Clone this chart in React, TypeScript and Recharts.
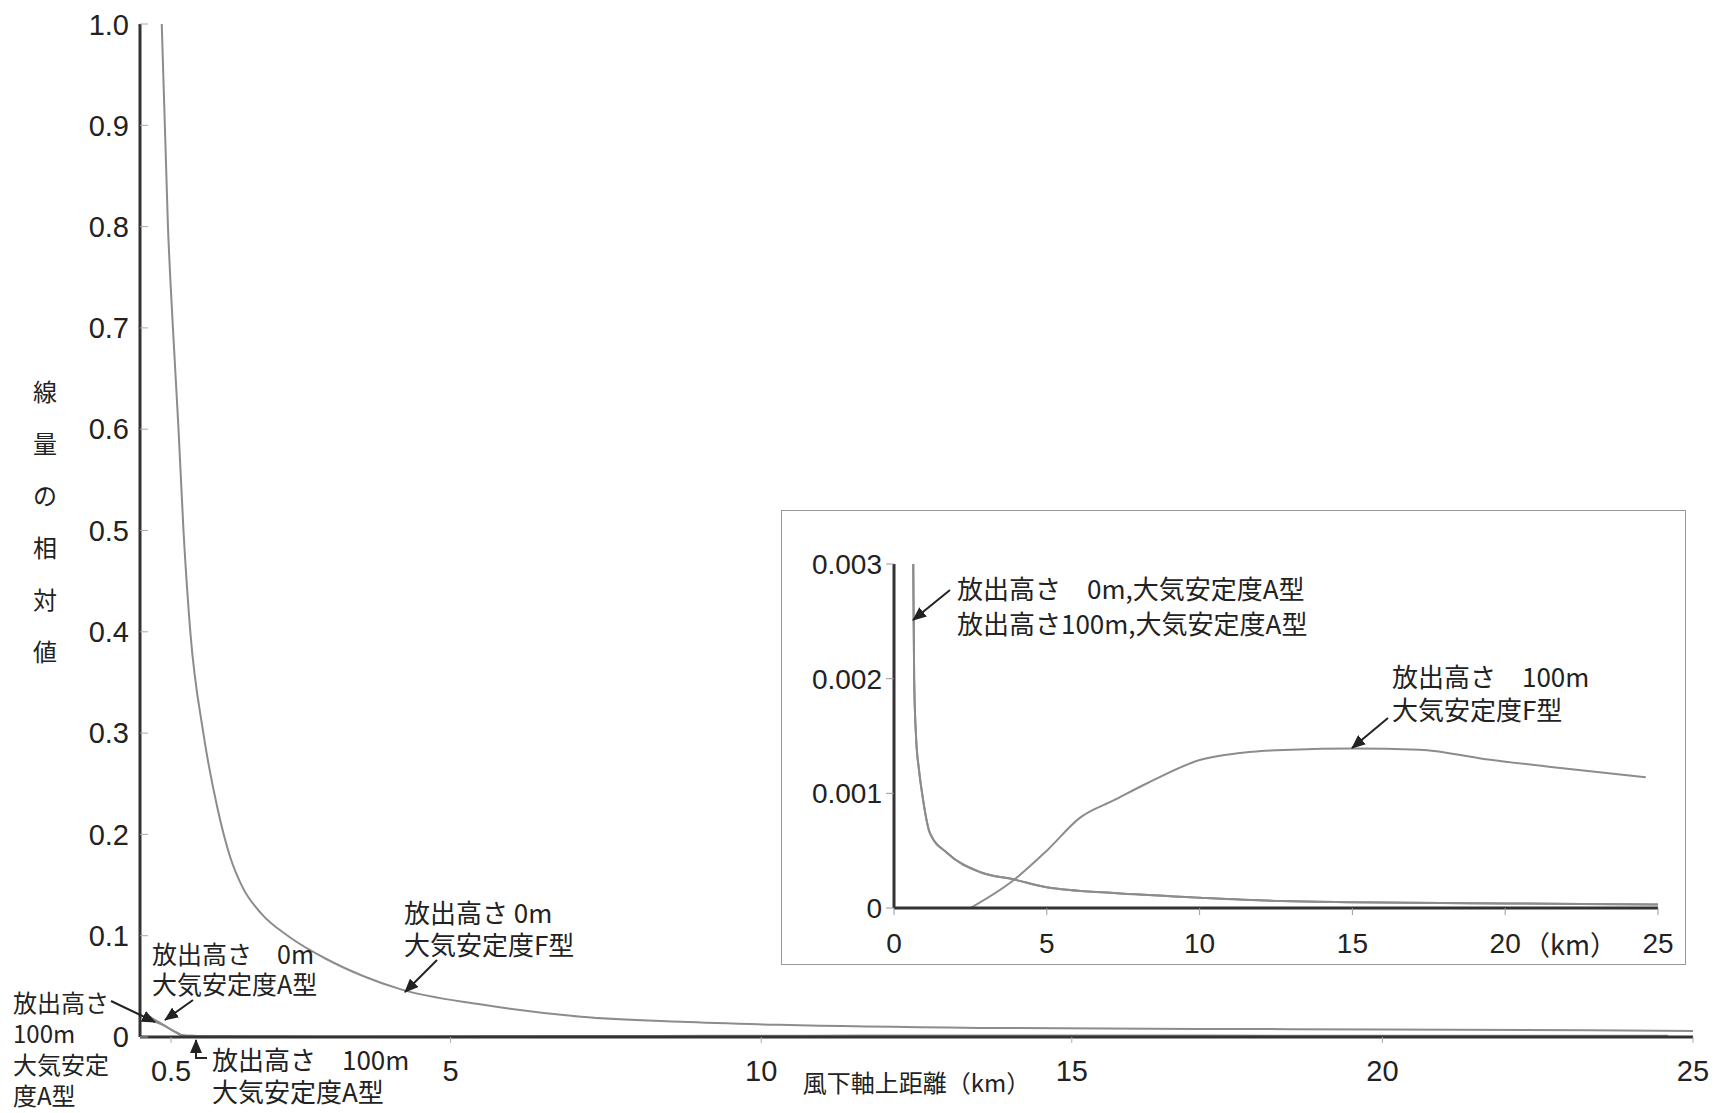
import React from 'react';
import { LineChart, Line, XAxis, YAxis } from 'recharts';

// 放出高さ0m・大気安定度F型 (main curve)
const f0Dist = [0.35, 0.45, 0.53, 0.62, 0.7, 0.81, 1.02, 1.25, 1.45, 1.65, 1.95, 2.4, 3.0, 3.6, 4.2, 5.5, 7.1, 8.7, 10.3, 13.5, 17, 20, 25];
const f0Dose = [1.0, 0.8, 0.7, 0.6, 0.5, 0.4, 0.3, 0.225, 0.178, 0.148, 0.122, 0.099, 0.077, 0.06, 0.047, 0.032, 0.02, 0.015, 0.012, 0.009, 0.008, 0.0075, 0.006];

// 放出高さ0m・大気安定度A型
const a0Dist = [0.15, 0.35, 0.55, 0.63, 0.66, 0.72, 0.82, 0.92, 1.18, 1.74, 2.85, 3.9, 5.0, 7.2, 10, 12.7, 15, 20, 25];
const a0Dose = [0.02, 0.013, 0.0055, 0.003, 0.002, 0.0015, 0.0012, 0.001, 0.00065, 0.00048, 0.00031, 0.00025, 0.00018, 0.00013, 0.00009, 0.00006, 0.00005, 0.00004, 0.00003];

// 放出高さ100m・大気安定度A型
const a100Dist = [0.24, 0.4, 0.55, 0.63, 0.66, 0.72, 0.82, 0.92, 1.18, 1.74, 2.85, 3.9, 5.0, 7.2, 10, 12.7, 15, 20, 25];
const a100Dose = [0.015, 0.011, 0.0055, 0.003, 0.002, 0.0015, 0.0012, 0.001, 0.00065, 0.00048, 0.00031, 0.00025, 0.00018, 0.00013, 0.00009, 0.00006, 0.00005, 0.00004, 0.00003];

// 放出高さ100m・大気安定度F型
const f100Dist = [2.5, 3.9, 5.0, 6.1, 7.2, 8.3, 10, 11.6, 13, 15, 17.2, 19.3, 21.5, 24.6];
const f100Dose = [0, 0.00024, 0.0005, 0.00079, 0.00094, 0.00109, 0.00129, 0.00136, 0.00138, 0.00139, 0.00138, 0.0013, 0.00123, 0.00114];

const mainXTicks = [0.5, 5, 10, 15, 20, 25];
const mainYTicks = [0, 0.1, 0.2, 0.3, 0.4, 0.5, 0.6, 0.7, 0.8, 0.9, 1.0];
const insetXTicks = [0, 5, 10, 15, 20, 25];
const insetYTicks = [0, 0.001, 0.002, 0.003];

const yTitle = ['線', '量', 'の', '相', '対', '値'];

const toPoints = (xs: number[], ys: number[]) => xs.map((d, i) => ({ d, v: ys[i] }));

const f0Data = toPoints(f0Dist, f0Dose);
const a0Data = toPoints(a0Dist, a0Dose);
const a100Data = toPoints(a100Dist, a100Dose);
const f100Data = toPoints(f100Dist, f100Dose);

const NUM_FONT = 'Liberation Sans, Arial, Helvetica, sans-serif';
const JP_FONT = '"Noto Sans CJK JP", "Noto Sans", sans-serif';
const CURVE = '#8c8c8c';
const AXIS = '#333';

const Arrow = ({ x1, y1, x2, y2 }: { x1: number; y1: number; x2: number; y2: number }) => (
  <line x1={x1} y1={y1} x2={x2} y2={y2} stroke="#222" strokeWidth={2} markerEnd="url(#ah)" />
);

// multi-line annotation drawn as one text element
const Note = ({ x, y, lines, size, gap }: { x: number; y: number; lines: string[]; size: number; gap: number }) => (
  <text x={x} y={y} fontSize={size} fill="#222" fontFamily={JP_FONT} dominantBaseline="central">
    {lines.map((t, i) => (
      <tspan key={i} x={x} dy={i === 0 ? 0 : gap}>
        {t}
      </tspan>
    ))}
  </text>
);

export default function App() {
  return (
    <div style={{ position: 'relative', width: 1704, height: 1105, background: '#fff' }}>
      <LineChart width={1704} height={1097} margin={{ top: 16, right: 19, bottom: 38, left: 72 }}>
        <XAxis
          dataKey="d"
          type="number"
          domain={[0, 25]}
          ticks={mainXTicks}
          axisLine={{ stroke: AXIS, strokeWidth: 3 }}
          tickLine={{ stroke: '#aaa' }}
          tickSize={6}
          tickMargin={17}
          tick={{ fontSize: 29, fill: '#222', fontFamily: NUM_FONT }}
          label={{ value: '風下軸上距離（km）', position: 'bottom', offset: 8, fontSize: 24, fill: '#222', fontFamily: JP_FONT }}
        />
        <YAxis
          type="number"
          width={60}
          domain={[0, 1]}
          ticks={mainYTicks}
          tickFormatter={(v: number) => (v === 0 ? '0' : v.toFixed(1))}
          axisLine={{ stroke: AXIS, strokeWidth: 3 }}
          tickLine={{ stroke: '#aaa' }}
          tickSize={-8}
          tickMargin={19}
          tick={{ fontSize: 29, fill: '#222', fontFamily: NUM_FONT }}
        />
        <Line data={f100Data} dataKey="v" type="monotone" dot={false} stroke={CURVE} strokeWidth={2} isAnimationActive={false} />
        <Line data={a100Data} dataKey="v" type="monotone" dot={false} stroke={CURVE} strokeWidth={2} isAnimationActive={false} />
        <Line data={a0Data} dataKey="v" type="monotone" dot={false} stroke={CURVE} strokeWidth={2} isAnimationActive={false} />
        <Line data={f0Data} dataKey="v" type="monotone" dot={false} stroke={CURVE} strokeWidth={2} isAnimationActive={false} />
      </LineChart>

      <div
        style={{
          position: 'absolute',
          left: 773,
          top: 502,
          width: 905,
          height: 455,
          border: '1px solid #999',
          boxSizing: 'border-box',
          background: '#fff',
        }}
      >
        <LineChart width={903} height={453} margin={{ top: 53, right: 27, bottom: 26, left: 32 }}>
          <XAxis
            dataKey="d"
            type="number"
            domain={[0, 25]}
            ticks={insetXTicks}
            axisLine={{ stroke: AXIS, strokeWidth: 3 }}
            tickLine={{ stroke: '#999' }}
            tickSize={7}
            tickMargin={18}
            tick={{ fontSize: 28, fill: '#222', fontFamily: NUM_FONT }}
          />
          <YAxis
            type="number"
            width={80}
            domain={[0, 0.003]}
            allowDataOverflow
            ticks={insetYTicks}
            tickFormatter={(v: number) => (v === 0 ? '0' : v.toFixed(3))}
            axisLine={{ stroke: AXIS, strokeWidth: 3 }}
            tickLine={{ stroke: '#999' }}
            tickSize={8}
            tickMargin={4}
            tick={{ fontSize: 28, fill: '#222', fontFamily: NUM_FONT }}
          />
          <Line data={a100Data} dataKey="v" type="monotone" dot={false} stroke={CURVE} strokeWidth={2} isAnimationActive={false} />
          <Line data={a0Data} dataKey="v" type="monotone" dot={false} stroke={CURVE} strokeWidth={2} isAnimationActive={false} />
          <Line data={f100Data} dataKey="v" type="monotone" dot={false} stroke={CURVE} strokeWidth={2} isAnimationActive={false} />
        </LineChart>
      </div>

      <svg
        width={1704}
        height={1105}
        style={{ position: 'absolute', left: 0, top: 0, pointerEvents: 'none' }}
      >
        <defs>
          <marker id="ah" markerUnits="userSpaceOnUse" markerWidth={14} markerHeight={12} refX={13} refY={6} orient="auto">
            <path d="M0,0 L14,6 L0,12 z" fill="#222" />
          </marker>
        </defs>

        {yTitle.map((c, i) => (
          <text key={c} x={37} y={382 + i * 52} fontSize={24} fill="#222" fontFamily={JP_FONT} textAnchor="middle" dominantBaseline="central">
            {c}
          </text>
        ))}

        <Note x={396} y={903} size={26} gap={32} lines={['放出高さ 0m', '大気安定度F型']} />
        <Arrow x1={429} y1={952} x2={397} y2={984} />

        <Note x={144} y={945} size={25} gap={30} lines={['放出高さ　0m', '大気安定度A型']} />
        <Arrow x1={185} y1={992} x2={157} y2={1012} />

        <Note x={5} y={993} size={24} gap={31} lines={['放出高さ', '100m', '大気安定', '度A型']} />
        <Arrow x1={103} y1={993} x2={147} y2={1014} />

        <Note x={204} y={1050} size={26} gap={32} lines={['放出高さ　100m', '大気安定度A型']} />
        <polyline points="199,1050 188,1050 188,1040" fill="none" stroke="#222" strokeWidth={2} />
        <Arrow x1={188} y1={1042} x2={188} y2={1032} />

        <Note x={949} y={579} size={26} gap={35} lines={['放出高さ　0m,大気安定度A型', '放出高さ100m,大気安定度A型']} />
        <Arrow x1={942} y1={582} x2={905} y2={612} />

        <Note x={1384} y={667} size={26} gap={33} lines={['放出高さ　100m', '大気安定度F型']} />
        <Arrow x1={1380} y1={710} x2={1344} y2={740} />

        <text x={1562} y={935} fontSize={27} fill="#222" fontFamily={JP_FONT} textAnchor="middle" dominantBaseline="central">
          （km）
        </text>
      </svg>
    </div>
  );
}
